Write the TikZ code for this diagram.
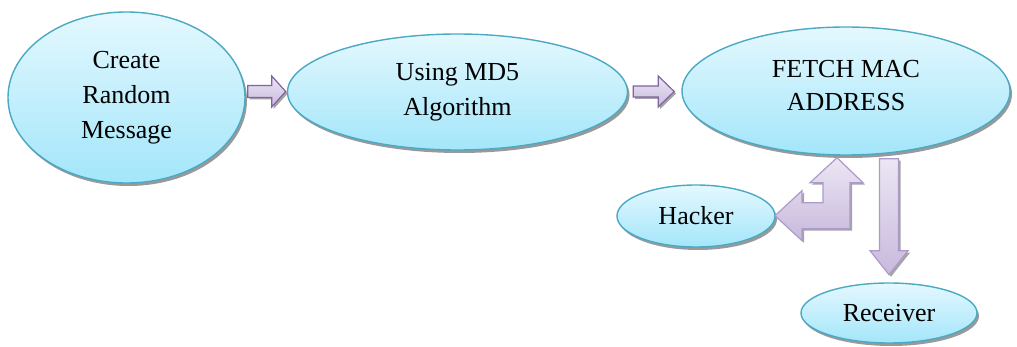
\documentclass[tikz,border=0pt]{standalone}
\usepackage{fontspec}
\setmainfont{Liberation Serif}
\usetikzlibrary{shapes.geometric,shadows,calc}

\definecolor{ovalline}{HTML}{4BA9C4}
\definecolor{ovaltop}{HTML}{E4F8FE}
\definecolor{ovalbot}{HTML}{A3E6FA}
\definecolor{shade}{HTML}{8E8E8E}
\definecolor{arrowtop}{HTML}{ECE6F4}
\definecolor{arrowbot}{HTML}{C8B9DC}
\definecolor{smallline}{HTML}{8064A2}
\definecolor{bigline}{HTML}{AC9BC9}

\tikzset{
  oval/.style={ellipse, draw=ovalline, line width=1.4pt,
    top color=ovaltop, bottom color=ovalbot, inner sep=0pt,
    align=center, font=\fontsize{26}{35}\selectfont,
    drop shadow={shadow xshift=2pt, shadow yshift=-3pt, fill=shade, opacity=0.9}},
  blockarrow/.style={line width=1.2pt, line join=miter,
    top color=arrowtop, bottom color=arrowbot,
    drop shadow={shadow xshift=2pt, shadow yshift=-2pt, fill=shade, opacity=0.8}},
  smallblock/.style={blockarrow, draw=smallline},
  bigblock/.style={blockarrow, draw=bigline},
}

\begin{document}
\begin{tikzpicture}[x=1pt, y=-1pt]
\useasboundingbox (0,0) rectangle (1017,347);

% process stages
\node[oval, minimum width=237pt, minimum height=171pt] (create) at (126.5,97.5)
  {Create\\Random\\Message};
\node[oval, minimum width=340pt, minimum height=116pt] (md5) at (457.5,92)
  {Using MD5\\Algorithm};
\node[oval, minimum width=328pt, minimum height=128pt,
  label={[align=center, font=\fontsize{26}{33}\selectfont, yshift=5pt]center:FETCH MAC\\ADDRESS}]
  (fetch) at (846,91) {};
\node[oval, minimum width=158pt, minimum height=62pt] (hacker) at (696,216) {Hacker};
\node[oval, minimum width=176pt, minimum height=60pt] (receiver) at (889,313) {Receiver};

% arrow anchor points
\coordinate (a1) at ($(create.east)+(2,-6)$);
\coordinate (a2) at ($(md5.east)+(5,-0.5)$);
\coordinate (a3) at ($(fetch.south)+(43,3)$);
\coordinate (a4) at ($(fetch.south)+(-9,2)$);

% create -> md5
\path[smallblock, shift={(a1)}]
  (0,-6) -- (24,-6) -- (24,-15.5) -- (38,0) -- (24,15.5) -- (24,6) -- (0,6) -- cycle;
% md5 -> fetch
\path[smallblock, shift={(a2)}]
  (0,-5.5) -- (25,-5.5) -- (25,-15.5) -- (41,0) -- (25,15.5) -- (25,5.5) -- (0,5.5) -- cycle;
% fetch -> receiver
\path[bigblock, shift={(a3)}]
  (-9.5,0) -- (9.5,0) -- (9.5,92) -- (19,92) -- (0,116) -- (-19,92) -- (-9.5,92) -- cycle;
% fetch <-> hacker
\path[bigblock, shift={(a4)}]
  (0,0) -- (26,25) -- (13,25) -- (13,71) -- (-35,71) -- (-35,83) -- (-62,58)
  -- (-35,33) -- (-35,45) -- (-14,45) -- (-14,25) -- (-27,25) -- cycle;
\end{tikzpicture}
\end{document}
